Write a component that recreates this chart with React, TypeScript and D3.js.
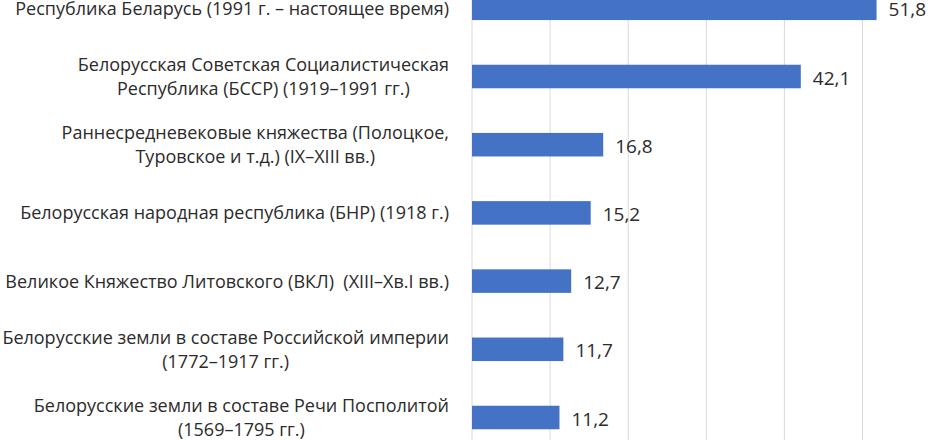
import * as d3 from 'd3';
import React, { useEffect, useRef } from 'react';

// categories, top to bottom ("\n" = line break in the label)
const categories = [
  'Республика Беларусь (1991 г. – настоящее время)',
  'Белорусская Советская Социалистическая\nРеспублика (БССР) (1919–1991 гг.)',
  'Раннесредневековые княжества (Полоцкое,\nТуровское и т.д.) (IX–XIII вв.)',
  'Белорусская народная республика (БНР) (1918 г.)',
  'Великое Княжество Литовского (ВКЛ)  (XIII–Хв.I вв.)',
  'Белорусские земли в составе Российской империи\n(1772–1917 гг.)',
  'Белорусские земли в составе Речи Посполитой\n(1569–1795 гг.)',
];
const values = [51.8, 42.1, 16.8, 15.2, 12.7, 11.7, 11.2];
const xTicks = [0, 10, 20, 30, 40, 50];

const App = () => {
  const ref = useRef<SVGSVGElement>(null);

  useEffect(() => {
    const height = 440;
    const font = "'Open Sans', 'Liberation Sans', sans-serif";
    const textColor = '#2b2b2b';

    const svg = d3.select(ref.current);
    svg.selectAll('*').remove();

    // the chart is cut at the top, bottom and right edge
    const x = d3.scaleLinear().domain([0, 60]).range([472, 472 + 60 * 7.81]);
    const y = d3
      .scaleBand<number>()
      .domain(d3.range(categories.length))
      .range([-25.8, 451.6])
      .paddingInner(0.655)
      .paddingOuter(0.3275);

    // gridlines
    svg
      .append('g')
      .selectAll('line')
      .data(xTicks)
      .enter()
      .append('line')
      .attr('x1', d => x(d))
      .attr('x2', d => x(d))
      .attr('y1', 0)
      .attr('y2', height)
      .attr('stroke', '#d9d9d9')
      .attr('stroke-width', 1);

    // bars
    svg
      .append('g')
      .selectAll('rect')
      .data(values)
      .enter()
      .append('rect')
      .attr('x', x(0))
      .attr('y', (d, i) => y(i)!)
      .attr('width', d => x(d) - x(0))
      .attr('height', y.bandwidth())
      .attr('fill', '#4472c4');

    // value labels
    svg
      .append('g')
      .selectAll('text')
      .data(values)
      .enter()
      .append('text')
      .attr('x', d => x(d) + 12)
      .attr('y', (d, i) => y(i)! + y.bandwidth() / 2 + 8)
      .attr('font-family', font)
      .attr('font-size', 19)
      .attr('fill', textColor)
      .text(d => d.toFixed(1).replace('.', ','));

    // category labels: block right-aligned to 449, lines centred inside it
    const lineH = 24.3;
    const right = 449;
    const labels = svg.append('g');
    categories.forEach((c, i) => {
      const lines = c.split('\n');
      const cy = y(i)! + y.bandwidth() / 2;
      const g = labels.append('g');
      const texts = lines.map((l, k) =>
        g
          .append('text')
          .attr('y', cy + 6.5 + (k - (lines.length - 1) / 2) * lineH)
          .attr('font-family', font)
          .attr('font-size', 18)
          .attr('fill', textColor)
          .attr('text-anchor', 'middle')
          .style('white-space', 'pre')
          .text(l)
      );
      const w = d3.max(texts, t => (t.node() as SVGTextElement).getComputedTextLength()) || 0;
      texts.forEach(t => t.attr('x', right - w / 2));
    });
  }, []);

  return (
    <svg
      ref={ref}
      width={928}
      height={440}
      style={{ position: 'absolute', left: 0, top: 0, background: '#fff' }}
    />
  );
};

export default App;
